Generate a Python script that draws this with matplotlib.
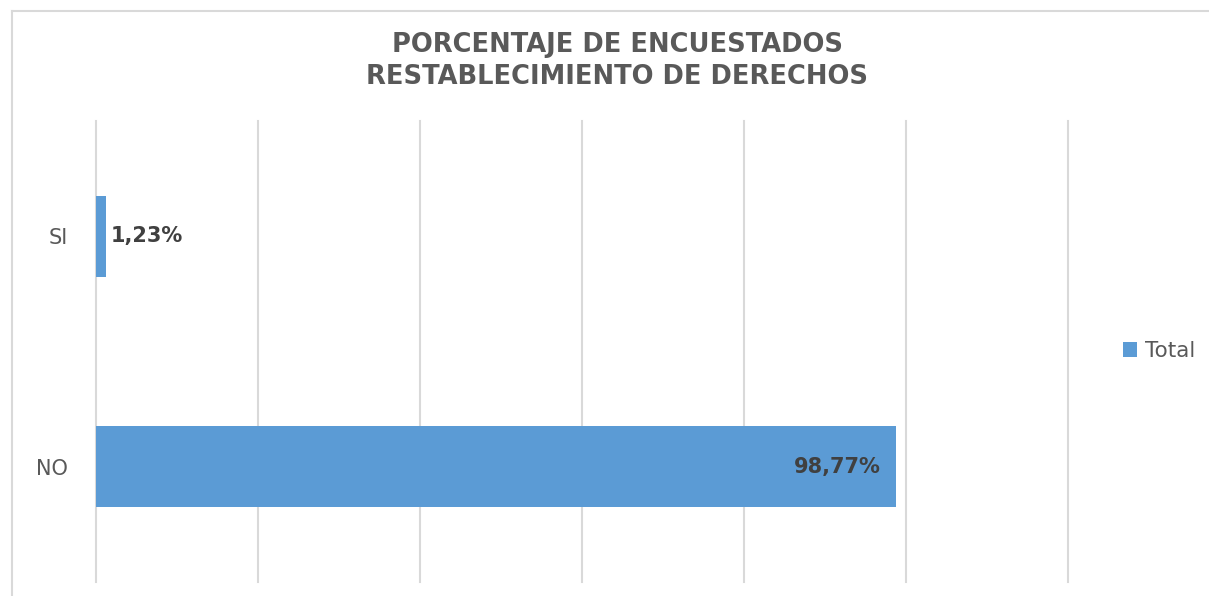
import matplotlib.pyplot as plt

categories = ['NO', 'SI']
values = [0.9877, 0.0123]
labels = ['98,77%', '1,23%']
title = 'PORCENTAJE DE ENCUESTADOS\nRESTABLECIMIENTO DE DERECHOS'

bar_color = '#5b9bd5'
text_color = '#595959'
grid_color = '#d9d9d9'

plt.rcParams['font.family'] = ['DejaVu Sans']

fig = plt.figure(figsize=(12.09, 5.96), dpi=100)
W, H = 1209, 596

# plot area in pixels: x 96..1068, y 121..582
ax = fig.add_axes([96 / W, 1 - 582 / H, (1068 - 96) / W, (582 - 121) / H])

y = list(range(len(categories)))
ax.barh(y, values, height=0.35, color=bar_color, label='Total', zorder=3)
ax.set_xlim(0, 1.2)
ax.set_ylim(-0.5, 1.5)
ax.set_xticks([0, 0.2, 0.4, 0.6, 0.8, 1.0, 1.2])
ax.set_xticklabels([])
ax.set_yticks(y)
ax.set_yticklabels(categories, fontsize=15, color=text_color)
ax.tick_params(axis='both', length=0, pad=20)
ax.grid(axis='x', color=grid_color, linewidth=1.5, zorder=0)
for gl in ax.get_xgridlines():
    gl.set_clip_on(False)
for s in ax.spines.values():
    s.set_visible(False)

for yi, v, lab in zip(y, values, labels):
    if v > 0.5:
        ax.text(v - 0.019, yi, lab, ha='right', va='center', fontsize=15,
                fontweight='bold', color='#404040', zorder=4)
    else:
        ax.text(v + 0.006, yi, lab, ha='left', va='center', fontsize=15,
                fontweight='bold', color='#404040', zorder=4)

fig.text(617 / W, 1 - 61 / H, title, ha='center', va='center', fontsize=18.5,
         fontweight='bold', color=text_color, linespacing=1.35)

leg = fig.legend(loc='center left', bbox_to_anchor=(1104 / W, 1 - 351 / H),
                 frameon=False, fontsize=15.5, handlelength=0.65, handleheight=0.65,
                 handletextpad=0.35, labelcolor=text_color)

# chart border (top and left visible)
fig.add_artist(plt.Line2D([12 / W, 1], [1 - 11 / H, 1 - 11 / H], color=grid_color,
                          linewidth=1.5, transform=fig.transFigure))
fig.add_artist(plt.Line2D([12 / W, 12 / W], [0, 1 - 11 / H], color=grid_color,
                          linewidth=1.5, transform=fig.transFigure))

fig.savefig('out.png', dpi=100)
